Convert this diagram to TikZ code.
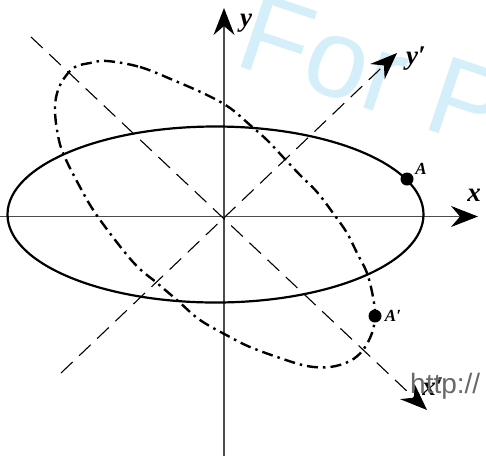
\documentclass[tikz,border=0pt]{standalone}
\usepackage{fontspec}
\setmainfont{Liberation Serif}
\newfontfamily\wmfont{Liberation Sans}
\usetikzlibrary{arrows.meta}
\definecolor{wmblue}{RGB}{212,238,250}
\definecolor{wmgray}{RGB}{105,105,105}
\begin{document}
\begin{tikzpicture}[x=1pt,y=-1pt,
  bighead/.style={-{Stealth[length=27pt,width=21pt,inset=9pt,black]}},
  axisline/.style={draw=black!70, line width=1.3pt, bighead},
  rotaxis/.style={draw=black, line width=1.1pt, dash pattern=on 16pt off 9pt, bighead},
  solidell/.style={draw=black, line width=2.2pt},
  dashdotell/.style={draw=black, line width=2.4pt, dash pattern=on 11pt off 5pt on 2.5pt off 5pt},
  ptdot/.style={circle, fill=black, inner sep=0pt, minimum size=13pt},
  axlabel/.style={font=\fontsize{27}{27}\selectfont\bfseries\itshape, inner sep=0pt, anchor=base},
  ptlabel/.style={font=\fontsize{17}{17}\selectfont\bfseries\itshape, inner sep=0pt, anchor=base},
]
\useasboundingbox (0,0) rectangle (486,456);
\clip (0,0) rectangle (486,456);

% watermark
\node[font=\fontsize{112}{112}\wmfont, text=wmblue, inner sep=0pt, anchor=base west, rotate=-18.5] (wm) at (232,64) {For P};

% named coordinates
\coordinate (O) at (224,216.5);
\coordinate (xL) at (0,216.5);
\coordinate (xR) at (478,216.5);
\coordinate (yB) at (224,456);
\coordinate (yT) at (224,8);
\coordinate (xpS) at (31,37);
\coordinate (xpE) at (427,410);
\coordinate (ypS) at (61,373);
\coordinate (ypE) at (397,53);

% axes
\draw[axisline] (xL) -- (xR);
\draw[axisline] (yB) -- (yT);
\draw[rotaxis] (xpS) -- (xpE);
\draw[rotaxis] (ypS) -- (ypE);

% original ellipse
\draw[solidell] (215.5,214.5) ellipse [x radius=208, y radius=88];

% rotated ellipse
\draw[dashdotell] plot[smooth cycle, tension=0.6] coordinates {
 (107,61) (140,67) (173,80) (207,95) (230,108) (250,125) (267,140) (283,157)
 (300,175) (317,192) (333,213) (347,233) (357,253) (367,273) (373,297) (375,316)
 (372,333) (363,350) (350,361) (330,367) (307,366) (280,358) (250,347) (230,337)
 (200,320) (177,300) (157,283) (133,262) (98,217) (80,187) (63,153) (57,130)
 (55,107) (58,90) (65,77) (75,67) (90,63)};

% points
\node[ptdot] (A) at (407,179) {};
\node[ptdot] (Ap) at (375,316) {};

% labels
\node[axlabel] (ylab) at (246,26) {y};
\node[axlabel] (yplab) at (416,64) {y′};
\node[axlabel] (xlab) at (474,201) {x};
\node[axlabel] (xplab) at (433,395) {x′};
\node[ptlabel] (Alab) at (421,174) {A};
\node[ptlabel] (Aplab) at (393,321) {A′};

% watermark url
\node[font=\fontsize{28}{28}\wmfont, text=wmgray, inner sep=0pt, anchor=base west] (url) at (410,393) {http://};
\end{tikzpicture}
\end{document}
